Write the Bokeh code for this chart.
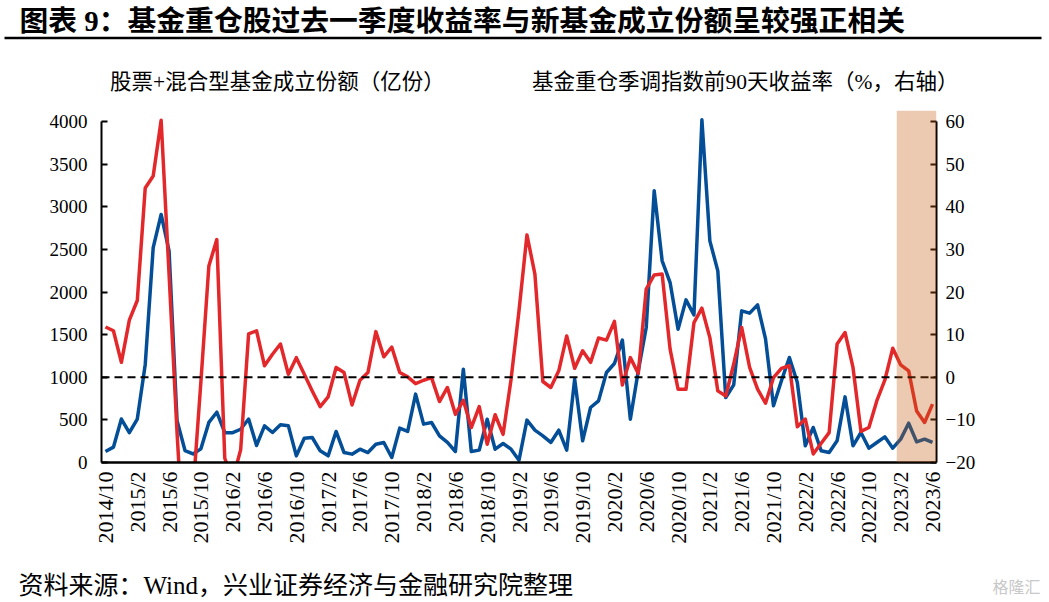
import math
from bokeh.plotting import figure
from bokeh.layouts import column
from bokeh.models import (Range1d, LinearAxis, FixedTicker, Span, BoxAnnotation,
                          Legend, LegendItem)
from bokeh.core.properties import value
from bokeh.embed import file_html
from bokeh.resources import INLINE

# ---------------- data ----------------
months = []
_y, _m = 2014, 10
for _ in range(105):
    months.append(f"{_y}/{_m}")
    _m += 1
    if _m > 12:
        _m = 1
        _y += 1

fund_issuance = [130, 180, 510, 350, 510, 1150, 2520, 2910, 2480, 490,
                 140, 100, 160, 470, 590, 350, 350, 390, 510, 200,
                 430, 352, 442, 430, 78, 285, 293, 137, 78, 364,
                 117, 98, 156, 117, 215, 235, 59, 403, 364, 802,
                 450, 469, 313, 235, 129, 1095, 129, 145, 508, 156,
                 223, 156, 27, 497, 379, 313, 235, 379, 145, 978,
                 254, 645, 723, 1056, 1161, 1435, 508, 1075, 1584, 3187,
                 2366, 2111, 1564, 1908, 1732, 4020, 2600, 2248, 762, 911,
                 1779, 1752, 1849, 1450, 665, 958, 1232, 938, 196, 411,
                 137, 117, 254, 770, 196, 352, 168, 235, 301, 168,
                 274, 461, 242, 274, 235]

index_return = [11.8, 10.9, 3.5, 13.4, 18.0, 44.4, 47.2, 60.3, 24, -13,
                -45, -27, -1, 26.1, 32.3, -19, -24, -17, 10.2, 10.9,
                2.7, 5.4, 7.8, 0.7, 4.6, 0.7, -3.2, -6.9, -4.6, 2.3,
                1.1, -6.5, -0.7, 1.1, 10.7, 4.8, 7.1, 1.1, 0.1, -1.5,
                -0.7, -0.1, -5.7, -2.4, -8.7, -5.4, -11.8, -6.9, -15.7, -8.8,
                -13.4, -0.5, 15.6, 33.4, 24.2, -1.0, -2.4, 1.5, 9.7, 2.1,
                6.2, 3.5, 9.2, 8.7, 13.1, -1.8, 4.6, 0.9, 20.7, 24.0,
                24.2, 6.6, -2.8, -2.8, 12.8, 16.2, 9.3, -3.2, -4.4, 3.1,
                11.7, 2.3, -2.8, -6.1, -0.1, 2.1, 2.7, -11.6, -9.8, -18.0,
                -15.5, -13.0, 7.8, 10.5, 2.3, -12.7, -11.8, -5.5, -0.7, 6.8,
                2.9, 1.5, -7.9, -10.6, -6.3]

highlight_months = ["2023/2", "2023/3", "2023/4", "2023/5", "2023/6"]
left_ticks = [0, 500, 1000, 1500, 2000, 2500, 3000, 3500, 4000]
right_ticks = [-20, -10, 0, 10, 20, 30, 40, 50, 60]
label_every = 4
ref_level = 1000

TITLE = "图表 9：基金重仓股过去一季度收益率与新基金成立份额呈较强正相关"
NAME_BLUE = "股票+混合型基金成立份额（亿份）"
NAME_RED = "基金重仓季调指数前90天收益率（%，右轴）"
SOURCE = "资料来源：Wind，兴业证券经济与金融研究院整理"
MARK = "格隆汇"

# ---------------- style / layout ----------------
BLUE = "#034E97"
RED = "#E3282B"
SHADE = "#C55A11"
FONT = "Liberation Serif, Noto Sans CJK SC"
TICK_FONT = "Liberation Serif"

W = 1045
H_TOP, H_MAIN, H_BOT = 100, 450, 50
F_LEFT, F_RIGHT = 101, 936
F_TOP, AX_TOP, F_BOT = 110, 121, 462
ext = (F_BOT - F_TOP) / (F_BOT - AX_TOP)


def bare(fig):
    fig.outline_line_color = None
    fig.grid.visible = False
    fig.background_fill_color = "white"
    fig.border_fill_color = "white"
    fig.frame_align = False
    return fig


# ---------------- header figure ----------------
top = bare(figure(width=W, height=H_TOP, x_range=Range1d(0, W), y_range=Range1d(H_TOP, 0),
                  output_backend="svg", toolbar_location=None, min_border=0,
                  x_axis_location=None, y_axis_location=None))
top.text(x=[19], y=[20], text=[TITLE], text_font=value(FONT), text_font_size="28.8px",
         text_font_style="bold", text_baseline="middle", text_align="left",
         text_color="black")
top.segment(x0=[4], y0=[37.5], x1=[1041], y1=[37.5], line_color="black", line_width=2.5)

lb = top.line([], [], line_color=BLUE, line_width=4)
lr = top.line([], [], line_color=RED, line_width=4)
for rend, name, lx in ((lb, NAME_BLUE, 53), (lr, NAME_RED, 475)):
    lg = Legend(items=[LegendItem(label=name, renderers=[rend])], location=(lx, H_TOP - 95))
    lg.border_line_color = None
    lg.background_fill_alpha = 0
    lg.padding = 0
    lg.margin = 0
    lg.glyph_width = 50
    lg.glyph_height = 20
    lg.label_height = 20
    lg.label_standoff = 7
    lg.label_text_font = FONT
    lg.label_text_font_size = "21.5px"
    lg.label_text_color = "black"
    top.add_layout(lg)

# ---------------- main chart ----------------
x = list(range(len(months)))
p = bare(figure(width=W, height=H_MAIN, output_backend="svg", toolbar_location=None,
                x_range=Range1d(-0.5, len(months) - 0.5),
                y_range=Range1d(0, left_ticks[-1] * ext),
                min_border_left=F_LEFT, min_border_right=W - F_RIGHT,
                min_border_top=F_TOP - H_TOP,
                min_border_bottom=H_TOP + H_MAIN - F_BOT))

r_lo, r_hi = right_ticks[0], right_ticks[-1]
p.extra_y_ranges = {"ret": Range1d(r_lo, r_lo + (r_hi - r_lo) * ext)}
raxis = LinearAxis(y_range_name="ret", ticker=FixedTicker(ticks=right_ticks))
p.add_layout(raxis, "right")

rb = p.line(x, fund_issuance, line_color=BLUE, line_width=3.5, line_join="round")
rr = p.line(x, index_return, y_range_name="ret", line_color=RED, line_width=3.5,
            line_join="round")

xa = p.xaxis[0]
xa.ticker = FixedTicker(ticks=list(range(0, len(months), label_every)))
xa.major_label_overrides = {i: months[i] for i in range(0, len(months), label_every)}
xa.major_label_orientation = math.pi / 2
xa.major_tick_in = 0
xa.major_tick_out = 0
xa.minor_tick_in = 0
xa.minor_tick_out = 0
xa.axis_line_width = 2.5
xa.axis_line_color = "black"
xa.major_label_standoff = 9
xa.major_label_text_font = TICK_FONT
xa.major_label_text_font_size = "22px"
xa.major_label_text_color = "black"

ya = p.yaxis[0]
ya.ticker = FixedTicker(ticks=left_ticks)
ya.bounds = (left_ticks[0], left_ticks[-1])
raxis.bounds = (r_lo, r_hi)
for ax in (ya, raxis):
    ax.major_tick_in = 6
    ax.major_tick_out = 0
    ax.minor_tick_in = 0
    ax.minor_tick_out = 0
    ax.axis_line_width = 2
    ax.axis_line_color = "black"
    ax.major_tick_line_width = 2
    ax.major_tick_line_color = "black"
    ax.major_label_text_font = TICK_FONT
    ax.major_label_text_font_size = "19px"
    ax.major_label_text_color = "black"
ya.major_label_standoff = 14
raxis.major_label_standoff = 9

p.add_layout(Span(location=ref_level, dimension="width", line_color="black",
                  line_width=2.2, line_dash="8 5"))

hl = [months.index(s) for s in highlight_months]
p.add_layout(BoxAnnotation(left=min(hl) - 0.5, right=max(hl) + 0.5,
                           fill_color=SHADE, fill_alpha=0.32, line_color=None))

# ---------------- footer figure ----------------
bot = bare(figure(width=W, height=H_BOT, x_range=Range1d(0, W), y_range=Range1d(H_BOT, 0),
                  output_backend="svg", toolbar_location=None, min_border=0,
                  x_axis_location=None, y_axis_location=None))
bot.text(x=[18], y=[35], text=[SOURCE], text_font=value(FONT), text_font_size="25px",
         text_baseline="middle", text_align="left", text_color="black")
bot.text(x=[1040], y=[35], text=[MARK], text_font=value("Noto Sans CJK SC"),
         text_font_size="16px", text_baseline="middle", text_align="right",
         text_color="#C8C8C8")

layout = column(top, p, bot, spacing=0)
open("out.html", "w").write(file_html(layout, INLINE))
